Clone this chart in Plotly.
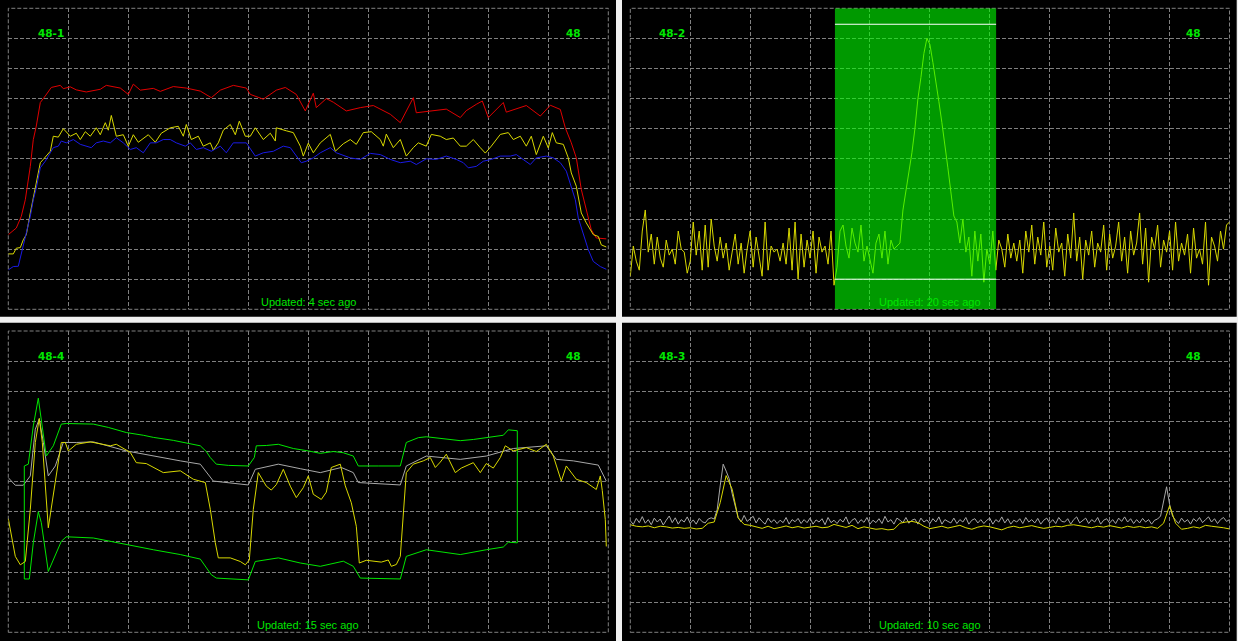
import plotly.graph_objects as go

# ---------------- Panel 48-1 (samples 0..600, percent 0..100) ----------------
p1_red_x = [0, 8, 13, 17, 22, 25, 28, 32, 37, 43, 52, 55, 62, 68, 78, 92, 98, 112, 120, 125, 132, 145, 152,
            165, 178, 192, 203, 212, 225, 238, 242, 255, 268, 277, 288, 297, 305, 308, 318, 325, 338, 352,
            365, 372, 382, 392, 398, 405, 408, 425, 438, 452, 458, 468, 474, 480, 488, 495, 498, 518, 532,
            542, 552, 557, 563, 568, 573, 578, 583, 588, 598]
p1_red_y = [24.8, 27.0, 30.9, 36.4, 47.5, 56.4, 60.9, 68.7, 70.9, 73.7, 74.4, 73.3, 73.9, 72.9, 72.2, 73.1,
            74.4, 73.5, 71.4, 74.8, 72.8, 73.4, 72.4, 74.0, 73.5, 72.5, 70.3, 72.8, 74.4, 73.5, 71.4, 69.8,
            72.8, 73.7, 71.4, 65.9, 71.8, 67.0, 70.0, 68.8, 65.9, 67.0, 67.7, 66.5, 64.8, 62.0, 66.0, 70.3,
            65.3, 65.9, 66.5, 63.7, 66.0, 68.1, 69.2, 63.7, 66.5, 68.7, 65.5, 67.7, 64.2, 67.8, 66.4, 60.3,
            55.3, 50.3, 39.8, 33.1, 26.4, 23.7, 23.4]

p1_yel_x = [0, 5, 8, 12, 15, 18, 22, 25, 28, 32, 35, 42, 45, 50, 55, 62, 68, 72, 77, 82, 88, 92, 97, 100,
            103, 108, 115, 120, 125, 130, 140, 147, 153, 162, 170, 175, 178, 183, 190, 195, 202, 205, 210,
            215, 222, 227, 231, 237, 242, 247, 255, 262, 267, 268, 278, 285, 292, 295, 300, 305, 312, 322,
            327, 335, 342, 348, 355, 363, 372, 375, 378, 385, 392, 398, 405, 410, 418, 423, 432, 438, 445,
            452, 458, 465, 472, 477, 483, 492, 500, 505, 512, 518, 523, 528, 535, 540, 544, 548, 555, 560,
            563, 568, 573, 578, 585, 590, 593, 598]
p1_yel_y = [18.4, 18.4, 20.3, 20.5, 23.1, 24.8, 32.0, 37.0, 40.9, 48.7, 49.8, 52.5, 57.5, 57.2, 60.0, 57.5,
            58.5, 56.4, 59.0, 57.5, 60.3, 58.0, 62.0, 59.5, 64.4, 57.5, 58.0, 54.2, 58.0, 55.5, 58.0, 55.5,
            58.5, 60.3, 60.8, 57.5, 61.4, 56.4, 57.5, 54.2, 55.3, 52.9, 55.3, 59.5, 61.4, 58.0, 62.5, 57.5,
            57.5, 60.3, 56.4, 58.5, 55.9, 60.3, 59.3, 58.7, 54.2, 50.9, 55.2, 52.0, 55.3, 58.1, 52.5, 55.0,
            56.4, 54.8, 58.7, 59.0, 56.4, 54.2, 58.2, 53.7, 56.4, 50.9, 53.7, 55.3, 54.2, 58.1, 57.5, 56.4,
            56.9, 54.2, 54.2, 56.4, 53.7, 51.9, 54.2, 58.1, 58.7, 56.4, 57.5, 54.2, 57.5, 51.4, 57.5, 53.6,
            58.7, 55.3, 54.8, 50.3, 45.3, 40.9, 32.0, 28.7, 24.8, 24.2, 21.4, 20.7]

p1_blu_x = [0, 5, 10, 15, 18, 22, 25, 28, 32, 37, 42, 45, 50, 53, 58, 65, 72, 78, 83, 88, 95, 102, 108, 115,
            122, 128, 135, 142, 148, 155, 162, 168, 177, 182, 188, 195, 203, 212, 218, 225, 238, 247, 255,
            265, 275, 282, 288, 293, 298, 305, 312, 322, 328, 342, 352, 362, 372, 382, 392, 402, 408, 418,
            428, 438, 448, 455, 460, 468, 475, 483, 492, 502, 508, 515, 522, 528, 538, 545, 552, 558, 563,
            567, 570, 575, 580, 585, 592, 598]
p1_blu_y = [13.1, 14.2, 14.3, 20.9, 24.8, 30.9, 36.4, 40.3, 47.0, 49.2, 52.0, 53.7, 54.2, 55.9, 55.3, 56.4,
            54.8, 54.2, 53.7, 55.3, 55.9, 55.3, 57.0, 55.3, 53.1, 53.7, 52.0, 55.3, 55.3, 56.4, 56.4, 55.3,
            54.2, 55.3, 53.1, 53.7, 52.5, 54.2, 52.0, 55.3, 55.3, 50.9, 52.0, 52.5, 54.2, 53.7, 50.9, 48.7,
            49.2, 50.3, 52.0, 53.7, 52.0, 50.3, 49.8, 51.8, 51.4, 49.8, 48.7, 49.2, 48.1, 50.0, 49.8, 50.9,
            49.8, 48.7, 47.0, 47.5, 49.2, 49.8, 50.9, 50.9, 51.4, 49.8, 48.1, 50.3, 50.9, 50.3, 48.7, 45.9,
            40.9, 36.4, 30.3, 25.3, 19.8, 15.9, 14.2, 13.3]

# ---------------- Panel 48-2 (sample index 0..200, units 0..10) ----------------
p2_signal = [
    1.1, 2.1, 1.6, 1.3, 2.6, 3.3, 1.9, 2.5, 1.5, 2.4,
    1.7, 1.4, 2.3, 1.8, 2.0, 1.5, 2.6, 2.0, 1.9, 1.2,
    1.6, 2.9, 1.8, 2.6, 1.3, 2.8, 1.4, 3.0, 2.1, 1.6,
    2.4, 1.7, 2.2, 1.3, 1.9, 2.5, 1.5, 2.2, 1.2, 2.0,
    2.6, 1.4, 2.4, 1.8, 1.1, 2.9, 1.3, 2.1, 1.9, 2.0,
    1.6, 2.2, 1.5, 2.7, 1.3, 2.9, 1.0, 2.5, 1.4, 2.3,
    1.7, 2.6, 1.2, 2.4, 1.9, 2.1, 1.5, 2.6, 0.8, 1.4,
    2.6, 2.8, 2.1, 1.7, 2.7, 2.2, 1.9, 2.8, 1.6, 2.1,
    1.7, 1.2, 2.2, 2.5, 1.7, 2.6, 1.5, 2.3, 2.0, 2.1,
    2.2, 3.3, 3.9, 4.5, 5.2, 6.0, 7.0, 7.7, 8.5, 9.0,
    8.8, 8.2, 7.6, 6.9, 6.2, 5.5, 4.7, 3.9, 3.1, 2.9,
    2.2, 3.0, 1.9, 2.4, 1.1, 2.6, 1.6, 2.5, 0.9, 2.0,
    1.5, 2.6, 1.3, 2.3, 2.0, 1.4, 2.5, 1.7, 2.2, 1.6,
    2.3, 1.2, 2.6, 1.9, 2.8, 1.5, 2.4, 1.8, 2.9, 1.4,
    2.1, 1.3, 2.7, 1.9, 2.2, 1.1, 2.5, 1.7, 3.2, 1.6,
    2.4, 1.0, 2.3, 1.8, 2.6, 1.4, 2.2, 1.9, 2.8, 1.3,
    2.5, 1.7, 2.1, 2.9, 1.6, 2.4, 1.2, 2.6, 1.8, 2.2,
    3.2, 1.5, 2.7, 0.9, 2.4, 2.0, 2.8, 1.4, 2.3, 1.9,
    2.6, 1.3, 2.9, 1.6, 2.2, 1.8, 2.5, 1.2, 2.7, 1.7,
    2.0, 1.5, 2.9, 0.8, 2.4, 2.1, 1.6, 2.6, 2.0, 2.8,
    2.9]
p2_window = [68.3, 122.1]      # analysis window (sample index)
p2_limits = [1.0, 9.47]        # lower / upper thresholds

# ---------------- Panel 48-4 (samples 0..600, percent 0..100) ----------------
p3_up_x = [16, 16, 20, 25, 30, 33, 38, 45, 53, 58, 70, 85, 100, 118, 135, 145, 165, 180, 192, 198, 202, 208,
           220, 240, 246, 248, 258, 270, 285, 300, 312, 325, 335, 345, 350, 370, 392, 398, 410, 418, 435,
           452, 465, 478, 495, 500, 505, 509, 509]
p3_up_y = [17.7, 55.2, 55.8, 68.5, 77.7, 70.8, 58.5, 61.9, 69.1, 69.3, 69.3, 69.1, 68.0, 66.3, 65.4, 64.7,
           63.7, 62.8, 61.9, 60.0, 58.0, 55.8, 55.4, 55.2, 58.0, 61.9, 62.0, 62.4, 61.0, 60.2, 59.4, 60.0,
           59.6, 58.5, 55.2, 55.2, 55.2, 63.0, 64.6, 64.9, 64.2, 63.6, 64.0, 64.7, 65.4, 67.2, 67.0, 66.9,
           29.7]
p3_lo_x = [16, 21, 25, 30, 33, 40, 53, 58, 85, 118, 145, 172, 192, 203, 208, 240, 247, 270, 292, 312, 335,
           345, 352, 392, 398, 418, 452, 478, 495, 500, 509]
p3_lo_y = [17.7, 17.7, 29.7, 40.0, 36.4, 20.2, 30.2, 31.7, 31.3, 29.1, 27.4, 25.8, 24.3, 19.1, 18.0, 17.4,
           23.5, 24.7, 23.0, 21.9, 23.6, 21.9, 18.0, 17.7, 25.2, 27.4, 25.8, 27.4, 28.3, 29.9, 29.7]
p3_gray_x = [0, 7, 15, 22, 27, 31, 35, 40, 47, 55, 68, 85, 118, 145, 172, 192, 205, 240, 247, 270, 285,
             292, 312, 333, 345, 350, 392, 398, 418, 452, 478, 505, 538, 548, 565, 590, 598]
p3_gray_y = [51.3, 48.8, 48.8, 51.9, 67.4, 70.8, 63.1, 51.9, 55.2, 63.0, 63.0, 63.2, 60.2, 58.5, 56.9, 55.8,
             50.2, 48.9, 54.1, 55.8, 54.7, 54.3, 53.0, 54.7, 53.0, 49.7, 48.9, 55.2, 58.5, 57.4, 58.5, 61.0,
             61.9, 57.4, 56.9, 55.5, 50.2]
p3_yel_x = [0, 7, 12, 17, 22, 27, 31, 34, 40, 45, 53, 57, 60, 68, 82, 102, 108, 122, 128, 138, 155, 172,
            185, 197, 202, 207, 210, 222, 232, 237, 241, 245, 250, 258, 263, 268, 275, 282, 288, 295, 300,
            305, 313, 318, 323, 332, 337, 343, 348, 351, 358, 373, 380, 383, 388, 392, 395, 398, 405, 415,
            422, 427, 432, 438, 447, 453, 465, 472, 478, 485, 492, 497, 505, 518, 528, 538, 545, 553, 558,
            568, 578, 588, 592, 594, 597, 598]
p3_yel_y = [37.7, 25.2, 22.4, 23.5, 40.8, 63.0, 71.0, 63.0, 34.7, 45.2, 63.0, 63.0, 60.2, 62.4, 63.2, 61.9,
            62.4, 59.7, 56.3, 56.0, 53.0, 53.6, 50.8, 49.7, 40.8, 29.7, 24.7, 24.7, 23.5, 22.4, 24.0, 40.8,
            53.0, 48.5, 47.2, 49.0, 54.1, 48.5, 44.7, 48.0, 51.9, 45.8, 44.1, 46.5, 54.7, 55.8, 48.6, 43.0,
            35.2, 23.0, 23.9, 23.3, 24.0, 21.9, 22.5, 25.2, 40.8, 53.0, 55.8, 56.9, 58.0, 54.7, 56.5, 59.1,
            53.0, 54.5, 56.3, 53.0, 56.0, 54.5, 58.0, 61.9, 60.2, 61.3, 60.0, 62.4, 58.5, 50.2, 55.2, 50.8,
            49.7, 47.4, 51.9, 47.0, 37.4, 28.5]

# ---------------- Panel 48-3 (sample index 0..200, units 0..10) ----------------
p4_gray = [
    3.70, 3.58, 3.78, 3.64, 3.84, 3.62, 3.74, 3.57, 3.79, 3.66,
    3.76, 3.56, 3.72, 3.86, 3.64, 3.80, 3.59, 3.74, 3.66, 3.83,
    3.62, 3.73, 3.59, 3.78, 3.67, 3.63, 3.76, 3.80, 3.76, 4.07,
    4.86, 5.58, 5.35, 5.10, 4.60, 4.19, 3.80, 3.66, 3.88, 3.68,
    3.76, 3.85, 3.63, 3.80, 3.68, 3.59, 3.79, 3.65, 3.74, 3.61,
    3.72, 3.64, 3.81, 3.59, 3.74, 3.67, 3.78, 3.61, 3.74, 3.64,
    3.79, 3.59, 3.73, 3.66, 3.77, 3.57, 3.81, 3.64, 3.72, 3.61,
    3.75, 3.66, 3.83, 3.59, 3.72, 3.78, 3.61, 3.74, 3.65, 3.81,
    3.59, 3.72, 3.64, 3.77, 3.61, 3.85, 3.66, 3.74, 3.59, 3.79,
    3.72, 3.64, 3.81, 3.62, 3.72, 3.76, 3.59, 3.79, 3.66, 3.73,
    3.61, 3.77, 3.66, 3.83, 3.59, 3.74, 3.68, 3.63, 3.79, 3.61,
    3.74, 3.66, 3.81, 3.59, 3.72, 3.77, 3.63, 3.74, 3.61, 3.72,
    3.79, 3.59, 3.74, 3.66, 3.83, 3.63, 3.77, 3.59, 3.72, 3.66,
    3.77, 3.61, 3.81, 3.66, 3.74, 3.63, 3.78, 3.59, 3.72, 3.79,
    3.63, 3.74, 3.61, 3.81, 3.68, 3.66, 3.77, 3.59, 3.74, 3.83,
    3.63, 3.72, 3.79, 3.61, 3.74, 3.66, 3.81, 3.59, 3.72, 3.77,
    3.63, 3.74, 3.61, 3.79, 3.68, 3.83, 3.66, 3.77, 3.61, 3.74,
    3.63, 3.78, 3.66, 3.74, 3.59, 3.72, 3.76, 3.86, 4.30, 4.83,
    4.25, 3.85, 3.72, 3.61, 3.79, 3.66, 3.74, 3.59, 3.77, 3.68,
    3.81, 3.64, 3.74, 3.83, 3.66, 3.77, 3.61, 3.74, 3.81, 3.68,
    3.74]
p4_yellow = [  # every second sample
    3.57, 3.52, 3.50, 3.53, 3.47, 3.52, 3.50, 3.46, 3.48, 3.45,
    3.47, 3.43, 3.45, 3.62, 3.66, 4.30, 5.20, 4.75, 3.80, 3.58,
    3.55, 3.50, 3.45, 3.52, 3.44, 3.48, 3.53, 3.47, 3.51, 3.46,
    3.50, 3.52, 3.47, 3.49, 3.58, 3.52, 3.48, 3.55, 3.44, 3.50,
    3.47, 3.42, 3.44, 3.40, 3.42, 3.62, 3.66, 3.68, 3.64, 3.52,
    3.44, 3.48, 3.52, 3.46, 3.50, 3.55, 3.47, 3.42, 3.49, 3.53,
    3.50, 3.46, 3.40, 3.48, 3.52, 3.47, 3.50, 3.54, 3.49, 3.45,
    3.48, 3.52, 3.50, 3.55, 3.57, 3.53, 3.50, 3.47, 3.52, 3.49,
    3.54, 3.50, 3.46, 3.52, 3.48, 3.51, 3.47, 3.50, 3.45, 3.62,
    4.20, 3.62, 3.42, 3.45, 3.50, 3.46, 3.55, 3.52, 3.50, 3.47,
    3.43]

labels = ["48-1", "48-2", "48-4", "48-3"]
channel = "48"
updated = ["Updated: 4 sec ago", "Updated: 20 sec ago", "Updated: 15 sec ago", "Updated: 10 sec ago"]

# ---------------- styling ----------------
W, H = 1238, 641
RED, YEL, BLU, GRN, GRY3, GRY4 = "#e00000", "#d8d800", "#1a1ae6", "#00e600", "#a8a8a8", "#a8a8a8"
TXT = "#00e600"
GRID = "#808080"
DASH = "4px,2px"

fig = go.Figure()

def line(x, y, color, xa, ya):
    fig.add_trace(go.Scatter(x=x, y=y, mode="lines", line=dict(color=color, width=1),
                             xaxis=xa, yaxis=ya, hoverinfo="skip", showlegend=False))

# panel 1
line(p1_red_x, p1_red_y, RED, "x", "y")
line(p1_yel_x, p1_yel_y, YEL, "x", "y")
line(p1_blu_x, p1_blu_y, BLU, "x", "y")
# panel 2
line(list(range(len(p2_signal))), p2_signal, YEL, "x2", "y2")
# panel 3
line(p3_gray_x, p3_gray_y, GRY3, "x3", "y3")
line(p3_up_x, p3_up_y, GRN, "x3", "y3")
line(p3_lo_x, p3_lo_y, GRN, "x3", "y3")
line(p3_yel_x, p3_yel_y, YEL, "x3", "y3")
# panel 4
line(list(range(len(p4_gray))), p4_gray, GRY4, "x4", "y4")
line([2 * i for i in range(len(p4_yellow))], p4_yellow, YEL, "x4", "y4")

# plot-area domains (pixels -> paper)
def dx(a, b):
    return [a / W, b / W]

def dy(top, bot):
    return [1 - bot / H, 1 - top / H]

ax_common = dict(showticklabels=False, zeroline=False, showline=False, showgrid=True,
                 gridcolor=GRID, griddash=DASH, gridwidth=1, fixedrange=True, ticks="")

layout = dict(
    width=W, height=H, margin=dict(l=0, r=0, t=0, b=0),
    paper_bgcolor="#f0f0f0", plot_bgcolor="rgba(0,0,0,0)", showlegend=False,
    xaxis=dict(domain=dx(8.3, 608.3), range=[0, 600], tick0=0, dtick=60, anchor="y", **ax_common),
    yaxis=dict(domain=dy(8.3, 309.3), range=[0, 100], tick0=0, dtick=10, anchor="x", **ax_common),
    xaxis2=dict(domain=dx(630.3, 1229.5), range=[0, 200], tick0=0, dtick=20, anchor="y2", **ax_common),
    yaxis2=dict(domain=dy(8.3, 309.3), range=[0, 10], tick0=0, dtick=1, anchor="x2", **ax_common),
    xaxis3=dict(domain=dx(8.3, 608.3), range=[0, 600], tick0=0, dtick=60, anchor="y3", **ax_common),
    yaxis3=dict(domain=dy(331, 632.3), range=[0, 100], tick0=0, dtick=10, anchor="x3", **ax_common),
    xaxis4=dict(domain=dx(630.3, 1229.5), range=[0, 200], tick0=0, dtick=20, anchor="y4", **ax_common),
    yaxis4=dict(domain=dy(331, 632.3), range=[0, 10], tick0=0, dtick=1, anchor="x4", **ax_common),
)
fig.update_layout(**layout)

shapes = []
# black panel backgrounds
for (x0, x1, y0, y1) in [(0, 616, 0, 316.7), (622, 1236.7, 0, 316.7), (0, 616, 322.7, 641), (622, 1236.7, 322.7, 641)]:
    shapes.append(dict(type="rect", xref="paper", yref="paper", x0=x0 / W, x1=x1 / W,
                       y0=1 - y1 / H, y1=1 - y0 / H, fillcolor="#000000", line=dict(width=0), layer="below"))
# dashed frame around each plot area (outer grid lines)
for xa, ya in [("x", "y"), ("x2", "y2"), ("x3", "y3"), ("x4", "y4")]:
    shapes.append(dict(type="rect", xref=xa + " domain", yref=ya + " domain", x0=0, x1=1, y0=0, y1=1,
                       line=dict(color=GRID, width=1, dash=DASH), fillcolor="rgba(0,0,0,0)", layer="below"))
# analysis window in panel 2
shapes.append(dict(type="rect", xref="x2", yref="y2", x0=p2_window[0], x1=p2_window[1], y0=0, y1=10,
                   fillcolor="rgb(0,255,0)", opacity=0.6, line=dict(width=0), layer="above"))
for lv in p2_limits:
    shapes.append(dict(type="line", xref="x2", yref="y2", x0=p2_window[0], x1=p2_window[1], y0=lv, y1=lv,
                       line=dict(color="#ffffff", width=1), layer="above"))
fig.update_layout(shapes=shapes)

ann = []
bold = dict(family="DejaVu Sans", size=10.5, color=TXT)
norm = dict(family="Liberation Sans", size=11, color=TXT)
for i, (xa, ya, xl, xr, xc, yt, yb) in enumerate([
        ("x", "y", 42.7, 565, 300, 91.8, 2.4),
        ("x2", "y2", 13.9, 187.9, 100, 9.18, 0.24),
        ("x3", "y3", 42.7, 565, 300, 91.8, 2.4),
        ("x4", "y4", 13.9, 187.9, 100, 9.18, 0.24)]):
    ann.append(dict(xref=xa, yref=ya, x=xl, y=yt, text="<b>" + labels[i] + "</b>", showarrow=False, font=bold))
    ann.append(dict(xref=xa, yref=ya, x=xr, y=yt, text="<b>" + channel + "</b>", showarrow=False, font=bold))
    ann.append(dict(xref=xa, yref=ya, x=xc, y=yb, text=updated[i], showarrow=False, font=norm))
fig.update_layout(annotations=ann)

fig.write_html("out.html", config={"displayModeBar": False, "staticPlot": True},
               post_script="document.body.style.margin='0';document.body.style.overflow='hidden';")
